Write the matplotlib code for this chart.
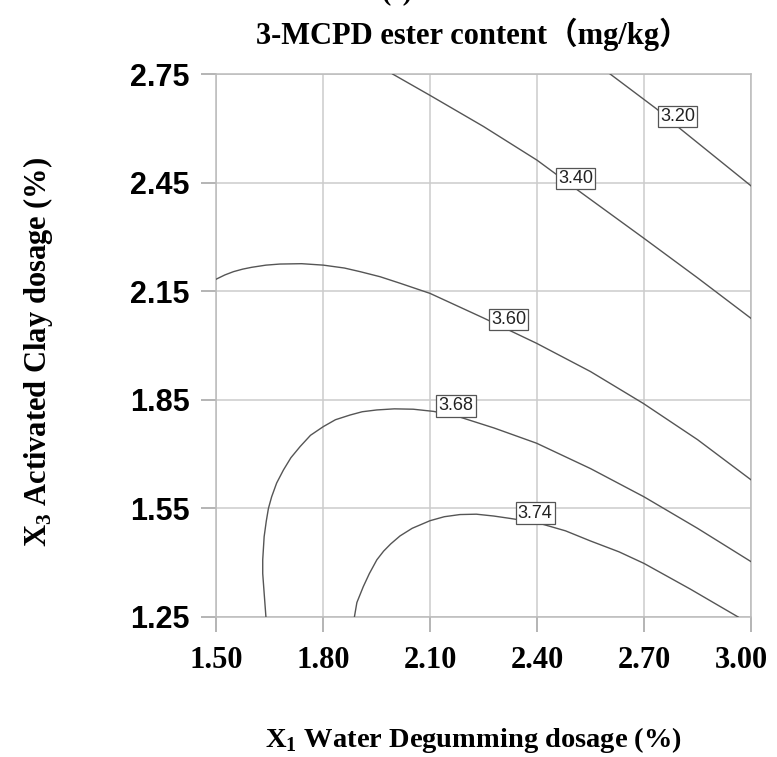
import matplotlib
matplotlib.use("Agg")
import matplotlib.pyplot as plt
import matplotlib.transforms as mtransforms

plt.rcParams['font.family'] = ['Liberation Serif', 'Noto Sans CJK SC']
plt.rcParams['mathtext.fontset'] = 'custom'
plt.rcParams['mathtext.rm'] = 'Liberation Serif:bold'
plt.rcParams['mathtext.bf'] = 'Liberation Serif:bold'

# axis ticks
x_ticks = [1.50, 1.80, 2.10, 2.40, 2.70, 3.00]
y_ticks = [1.25, 1.55, 1.85, 2.15, 2.45, 2.75]
x_tick_labels = ['1.50', '1.80', '2.10', '2.40', '2.70', '3.00']
y_tick_labels = ['1.25', '1.55', '1.85', '2.15', '2.45', '2.75']

# contour lines (X1, X3)
c320_x = [2.605, 2.736, 2.795, 3.000]
c320_y = [2.750, 2.653, 2.604, 2.441]

c340_x = [1.995, 2.100, 2.250, 2.400, 2.520, 2.700, 2.850, 3.000]
c340_y = [2.750, 2.691, 2.605, 2.512, 2.425, 2.296, 2.187, 2.075]

c360_x = [1.500, 1.525, 1.549, 1.575, 1.600, 1.640, 1.679, 1.740, 1.801,
          1.860, 1.904, 1.960, 2.016, 2.100, 2.250, 2.399, 2.550, 2.698,
          2.850, 3.000]
c360_y = [2.183, 2.195, 2.204, 2.211, 2.216, 2.222, 2.225, 2.226, 2.222,
          2.214, 2.204, 2.190, 2.172, 2.144, 2.076, 2.006, 1.928, 1.840,
          1.740, 1.629]

c368_x = [1.640, 1.635, 1.631, 1.631, 1.635, 1.641, 1.647, 1.656, 1.670,
          1.689, 1.710, 1.736, 1.765, 1.801, 1.835, 1.876, 1.910, 1.951,
          2.000, 2.053, 2.110, 2.175, 2.280, 2.399, 2.550, 2.700, 2.850,
          3.000]
c368_y = [1.250, 1.316, 1.370, 1.408, 1.472, 1.515, 1.550, 1.582, 1.620,
          1.656, 1.690, 1.721, 1.752, 1.776, 1.795, 1.808, 1.817, 1.822,
          1.825, 1.824, 1.818, 1.805, 1.772, 1.730, 1.660, 1.582, 1.495,
          1.403]

c374_x = [1.888, 1.895, 1.913, 1.930, 1.951, 1.970, 1.990, 2.016, 2.050,
          2.100, 2.140, 2.184, 2.230, 2.278, 2.320, 2.399, 2.480, 2.550,
          2.630, 2.700, 2.830, 2.964]
c374_y = [1.250, 1.290, 1.334, 1.370, 1.408, 1.432, 1.452, 1.474, 1.495,
          1.516, 1.527, 1.533, 1.534, 1.529, 1.523, 1.511, 1.488, 1.460,
          1.430, 1.398, 1.327, 1.250]

contours = [(c320_x, c320_y), (c340_x, c340_y), (c360_x, c360_y),
            (c368_x, c368_y), (c374_x, c374_y)]

# contour labels
label_text = ['3.20', '3.40', '3.60', '3.68', '3.74']
label_x = [2.794, 2.508, 2.320, 2.173, 2.395]
label_y = [2.632, 2.462, 2.071, 1.833, 1.537]

fig = plt.figure(figsize=(7.77, 7.57), dpi=100)
ax = fig.add_axes([216 / 777, 140 / 757, 535 / 777, 543 / 757])

for cx, cy in contours:
    ax.plot(cx, cy, color='#555555', lw=1.0, zorder=3)

for t, lx, ly in zip(label_text, label_x, label_y):
    ax.text(lx, ly, t, ha='center', va='center', fontsize=13,
            family='Liberation Sans', color='#222222', zorder=5,
            bbox=dict(boxstyle='square,pad=0.12', fc='white',
                      ec='#555555', lw=0.9))

ax.set_xlim(1.5, 3.0)
ax.set_ylim(1.25, 2.75)
ax.set_xticks(x_ticks)
ax.set_yticks(y_ticks)
ax.set_xticklabels(x_tick_labels, family='Liberation Serif',
                   fontweight='bold', fontsize=22)
ax.set_yticklabels(y_tick_labels, family='Liberation Sans',
                   fontweight='bold', fontsize=22)
ax.tick_params(axis='both', length=11, width=1.2, color='#a8a8a8')
ax.tick_params(axis='x', pad=10)
ax.tick_params(axis='y', pad=8)

# last x label pulled in a little so it stays inside the figure
last = ax.get_xticklabels()[-1]
last.set_transform(last.get_transform() +
                   mtransforms.ScaledTranslation(-7 / 72, 0, fig.dpi_scale_trans))

ax.set_axisbelow(True)
ax.grid(True, color='#cccccc', lw=1.1)
for s in ax.spines.values():
    s.set_color('#bbbbbb')
    s.set_linewidth(1.1)

fig.text(473 / 777, 1 - 44 / 757, '3-MCPD ester content（mg/kg）',
         ha='center', va='baseline', fontsize=22, fontweight='bold')
fig.text(397 / 777, 1.0, '(c)', ha='center', va='baseline',
         fontsize=20, fontweight='bold')
fig.text(473 / 777, 10 / 757, r'X$_1$ Water Degumming dosage (%)',
         ha='center', va='baseline', fontsize=20.5, fontweight='bold')
fig.text(38 / 777, 1 - 352 / 757, r'X$_3$ Activated Clay dosage (%)',
         ha='center', va='center', rotation=90, fontsize=22,
         fontweight='bold')

fig.savefig('out.png', dpi=100, facecolor='white')
